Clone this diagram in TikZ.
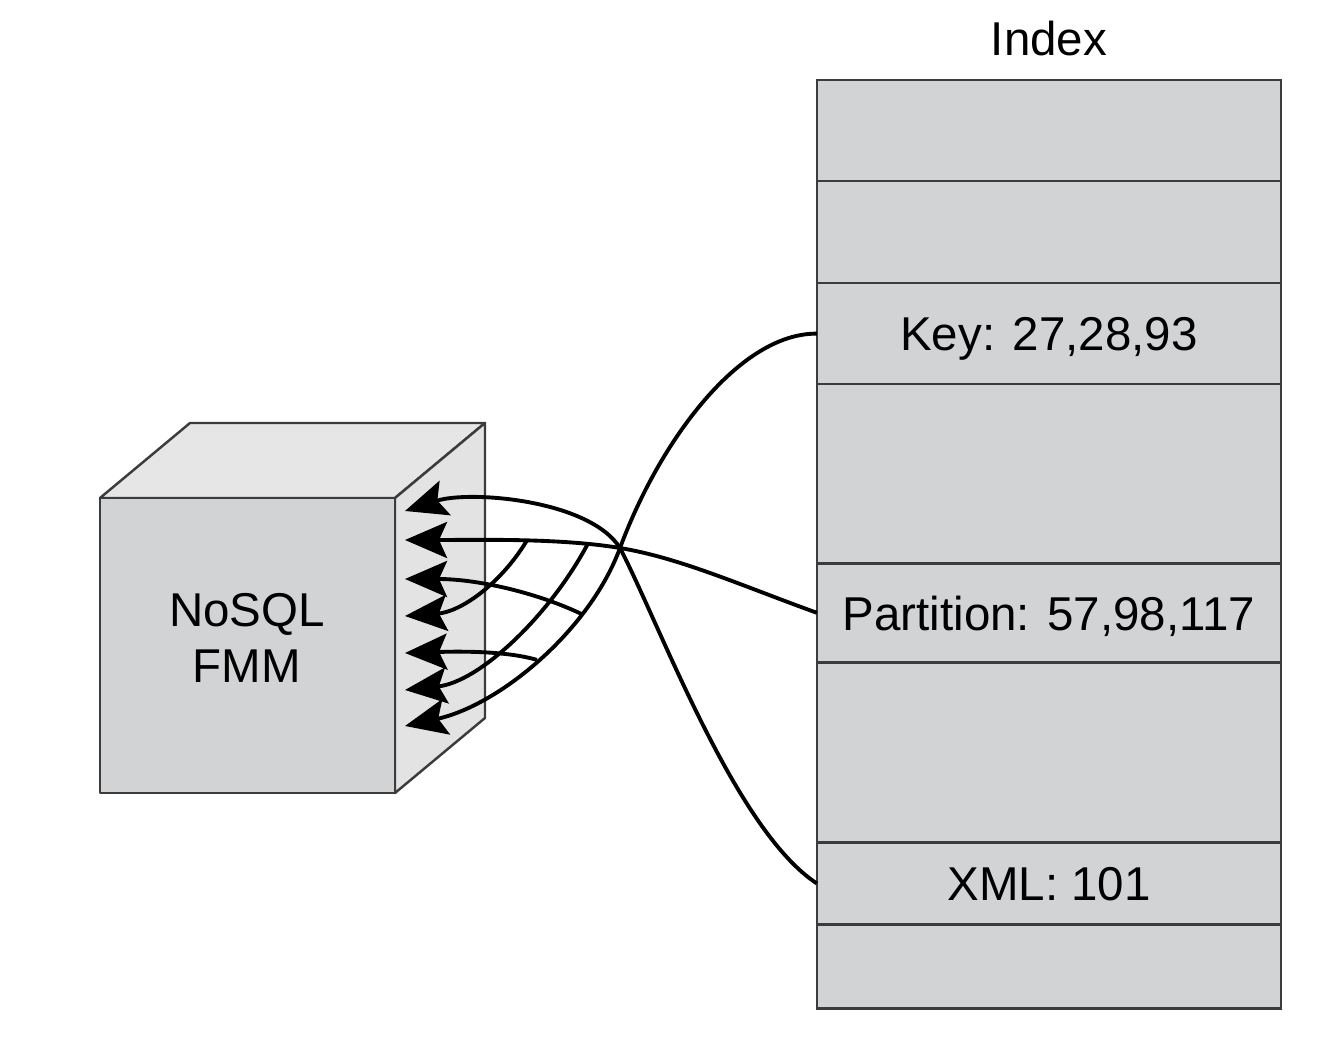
\documentclass[tikz,border=0pt]{standalone}
\usepackage{fontspec}
\setmainfont{Liberation Sans}
\usepackage{tikz}
\usetikzlibrary{arrows.meta,positioning}

\definecolor{boxgray}{HTML}{D2D3D5}
\definecolor{topgray}{HTML}{E6E6E7}
\definecolor{sidegray}{HTML}{E3E3E4}
\definecolor{edgegray}{HTML}{3C3C3C}

\begin{document}
\begin{tikzpicture}[
  x=0.01cm, y=-0.01cm,
  slot/.style={rectangle, draw=edgegray, line width=0.7pt, fill=boxgray, minimum width=4.64cm, outer sep=0pt, inner sep=0pt, text depth=0pt, font=\fontsize{13.5}{16}\selectfont},
  face/.style={draw=edgegray, line width=0.7pt, line join=round},
  link/.style={-{Stealth[length=4.2mm, width=3.6mm, inset=0.8mm]}, line width=1.1pt},
  lbl/.style={font=\fontsize{13.5}{16}\selectfont, inner sep=0pt, align=center},
  node distance=0pt
]
  \useasboundingbox (0,0) rectangle (1326,1046);

  % index column
  \node[slot, minimum height=1.01cm, anchor=north] (Slot1) at (1049,80) {};
  \node[slot, minimum height=1.02cm, below=of Slot1] (Slot2) {};
  \node[slot, minimum height=1.01cm, below=of Slot2] (KeyRow) {Key: 27,28,93};
  \node[slot, minimum height=1.79cm, below=of KeyRow] (Slot4) {};
  \node[slot, minimum height=0.99cm, below=of Slot4] (PartRow) {Partition: 57,98,117};
  \node[slot, minimum height=1.80cm, below=of PartRow] (Slot6) {};
  \node[slot, minimum height=0.82cm, below=of Slot6] (XmlRow) {XML: 101};
  \node[slot, minimum height=0.84cm, below=of XmlRow] (Slot8) {};
  \node[lbl, above=0.23cm of Slot1] (Title) {Index};

  % cube
  \draw[face, fill=topgray] (100,498) -- (190,423) -- (485,423) -- (395,498) -- cycle;
  \draw[face, fill=sidegray] (395,498) -- (485,423) -- (485,718) -- (395,793) -- cycle;
  \draw[face, fill=boxgray] (100,498) rectangle (395,793);
  \node[lbl] (FMM) at (247,638) {NoSQL\\FMM};

  % arrow tips on the side face
  \coordinate (Tip1) at (405,511);
  \coordinate (Tip2) at (405,540);
  \coordinate (Tip3) at (405,579);
  \coordinate (Tip4) at (405,616);
  \coordinate (Tip5) at (405,653);
  \coordinate (Tip6) at (405,690);
  \coordinate (Tip7) at (405,726);

  % key
  \draw[link] (KeyRow.west) .. controls (740,333) and (660,440) .. (620,548)
    .. controls (590,630) and (500,705) .. coordinate[pos=0.28] (KeyFork1) coordinate[pos=0.5] (KeyFork2) (Tip7);
  \draw[link] (KeyFork1) .. controls (540,594) and (480,579) .. (Tip3);
  \draw[link] (KeyFork2) .. controls (510,652) and (470,651) .. (Tip5);

  % partition
  \draw[link] (PartRow.west) .. controls (740,585) and (680,558) .. (620,548)
    .. controls (560,538) and (480,540) .. coordinate[pos=0.17] (PartFork1) coordinate[pos=0.46] (PartFork2) (Tip2);
  \draw[link] (PartFork1) .. controls (550,615) and (480,682) .. (Tip6);
  \draw[link] (PartFork2) .. controls (500,585) and (460,612) .. (Tip4);

  % xml
  \draw[link] (XmlRow.west) .. controls (735,830) and (660,625) .. (620,548)
    .. controls (590,500) and (470,490) .. (Tip1);
\end{tikzpicture}
\end{document}
